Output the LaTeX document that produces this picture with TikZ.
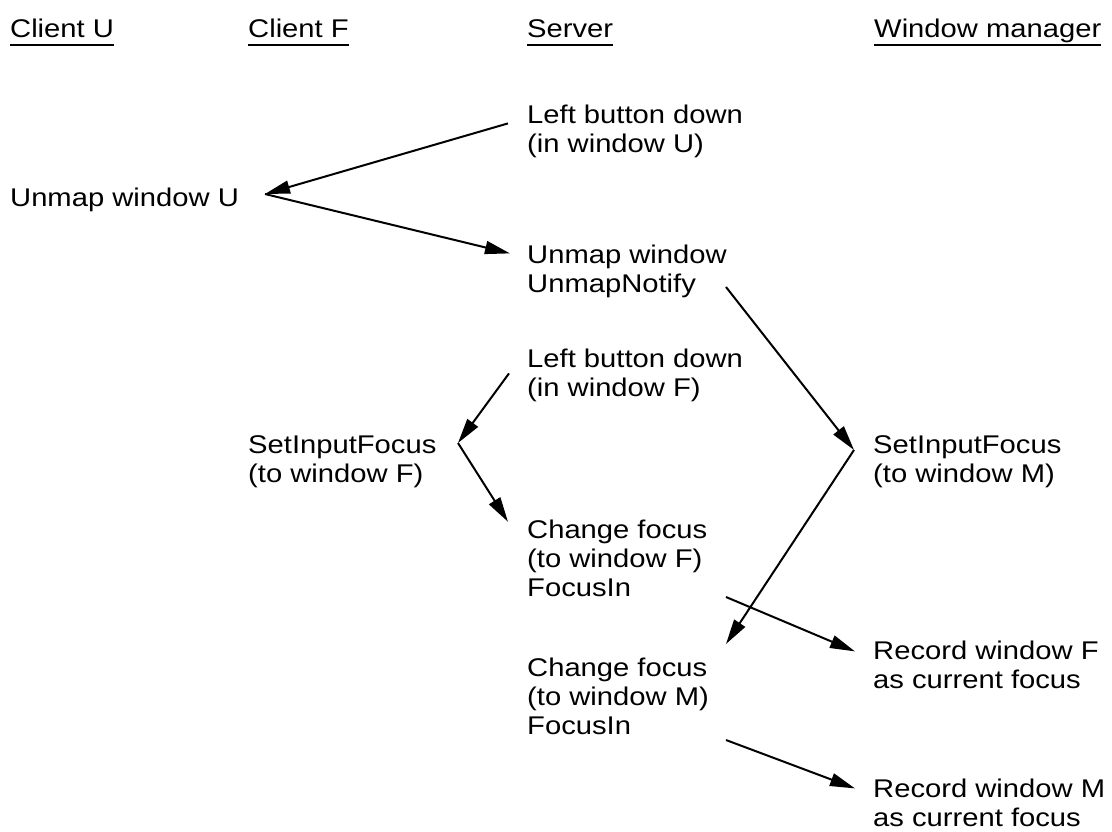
\documentclass[tikz,border=0pt]{standalone}
\usepackage{fontspec}
\setmainfont{Liberation Sans}[FakeStretch=1.14]
\usetikzlibrary{arrows.meta}
\tikzset{
  lbl/.style={anchor=base west, align=left, inner sep=0pt,
    font=\fontsize{25.6}{29.4}\selectfont},
  msg/.style={line width=2pt, -{Triangle[length=25pt, width=13pt]}},
  uline/.style={line width=2pt}
}
\begin{document}
\begin{tikzpicture}[x=1pt, y=-1pt]
	\useasboundingbox (0,0) rectangle (1112,831);
	% column heads
	\node[lbl] (hU) at (10,37) {Client U};
	\node[lbl] (hF) at (248,37) {Client F};
	\node[lbl] (hS) at (527,37) {Server};
	\node[lbl] (hW) at (874,37) {Window manager};
	\foreach \h in {hU,hF,hS,hW}
		\draw[uline] ([yshift=-8pt]\h.base west) -- ([yshift=-8pt]\h.base east);
	% events and requests (placed at the baseline of their last line)
	\node[lbl] (lbdU) at (527,152.4) {Left button down\\(in window U)};
	\node[lbl] (unmapU) at (10,206) {Unmap window U};
	\node[lbl] (unmapS) at (527,292.4) {Unmap window\\UnmapNotify};
	\node[lbl] (lbdF) at (527,396.4) {Left button down\\(in window F)};
	\node[lbl] (sifF) at (248,482.4) {SetInputFocus\\(to window F)};
	\node[lbl] (sifM) at (873,482.4) {SetInputFocus\\(to window M)};
	\node[lbl] (cfF) at (527,596.8) {Change focus\\(to window F)\\FocusIn};
	\node[lbl] (recF) at (873,688.4) {Record window F\\as current focus};
	\node[lbl] (cfM) at (527,734.8) {Change focus\\(to window M)\\FocusIn};
	\node[lbl] (recM) at (873,826.4) {Record window M\\as current focus};
	% turning points and free ends
	\coordinate (vU) at (265,194);
	\coordinate (vF) at (458,443);
	\coordinate (vM) at (854,450);
	\coordinate (nfyEnd) at (726,287);
	\coordinate (cfFEnd) at (726,597);
	\coordinate (cfMTop) at (726,644);
	\coordinate (cfMEnd) at (726,740);
	% messages
	\draw[msg] ([shift={(-19pt,29pt)}]lbdU.base west) -- (vU);
	\draw[msg] (vU) -- ([shift={(-17pt,39pt)}]unmapS.base west);
	\draw[msg] (nfyEnd) -- (vM);
	\draw[msg] (vM) -- (cfMTop);
	\draw[msg] ([shift={(-18pt,23pt)}]lbdF.base west) -- (vF);
	\draw[msg] (vF) -- ([shift={(-19pt,75pt)}]cfF.base west);
	\draw[msg] (cfFEnd) -- ([shift={(-18pt,37pt)}]recF.base west);
	\draw[msg] (cfMEnd) -- ([shift={(-18pt,38pt)}]recM.base west);
\end{tikzpicture}
\end{document}
